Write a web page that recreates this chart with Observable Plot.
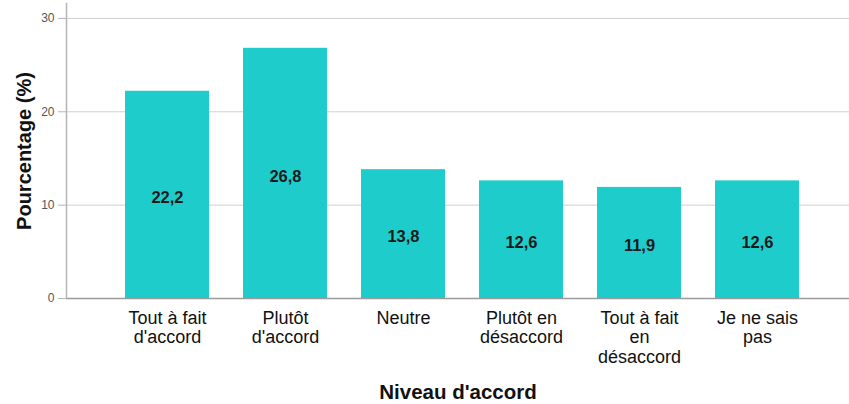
<!DOCTYPE html>
<html><head><meta charset="utf-8">
<script src="https://cdn.jsdelivr.net/npm/d3@7"></script>
<script src="https://cdn.jsdelivr.net/npm/@observablehq/plot@0.6"></script>
<style>
body{margin:0;background:#fff;}
svg{font-family:"Liberation Sans",Arial,sans-serif;}
</style></head><body><div id="chart"></div>
<script>
const categories = ["Tout à fait\nd'accord","Plutôt\nd'accord","Neutre","Plutôt en\ndésaccord","Tout à fait\nen\ndésaccord","Je ne sais\npas"];
const values = [22.2, 26.8, 13.8, 12.6, 11.9, 12.6];
const yTicks = [0, 10, 20, 30];
const data = categories.map((c, i) => ({cat: c, v: values[i]}));
const fmt = v => v.toFixed(1).replace(".", ",");

const plot = Plot.plot({
  width: 849, height: 404,
  marginLeft: 66, marginRight: 0, marginTop: 3, marginBottom: 106,
  style: {fontFamily: '"Liberation Sans",Arial,sans-serif', background: "#fff"},
  x: {domain: categories, range: [89, 836], padding: 0.286, label: null},
  y: {domain: [0, 31.6], label: null},
  marks: [
    Plot.gridY(yTicks.filter(d => d > 0), {stroke: "#d0d0d0", strokeOpacity: 1}),
    Plot.barY(data, {x: "cat", y: "v", fill: "#1ecccc"}),
    Plot.ruleY([0], {stroke: "#9a9a9a", strokeWidth: 1.5}),
    Plot.frame({anchor: "left", stroke: "#b5b5b5", strokeWidth: 1.5}),
    Plot.text(data, {x: "cat", y: d => d.v / 2, text: d => fmt(d.v), dy: 3, fontSize: 16.5, fontWeight: "bold", fill: "#1a1a1a"}),
    Plot.axisY({ticks: yTicks, tickSize: 8, tickPadding: 4, fontSize: 12, color: "#555", stroke: "#b5b5b5",
      label: "Pourcentage (%)", labelAnchor: "center", labelArrow: false, labelOffset: 50}),
    Plot.axisX({tickSize: 0, tickPadding: 11, fontSize: 18, lineHeight: 1.1, color: "#111",
      label: "Niveau d'accord", labelAnchor: "center", labelArrow: false, labelOffset: 100})
  ]
});
d3.select(plot).selectAll("[aria-label='y-axis label'] text, [aria-label='x-axis label'] text")
  .attr("font-weight", "bold").attr("fill", "#111");
d3.select(plot).select("[aria-label='y-axis label']").attr("font-size", 20);
d3.select(plot).select("[aria-label='x-axis label']").attr("font-size", 20.5);
document.getElementById("chart").appendChild(plot);
</script></body></html>
